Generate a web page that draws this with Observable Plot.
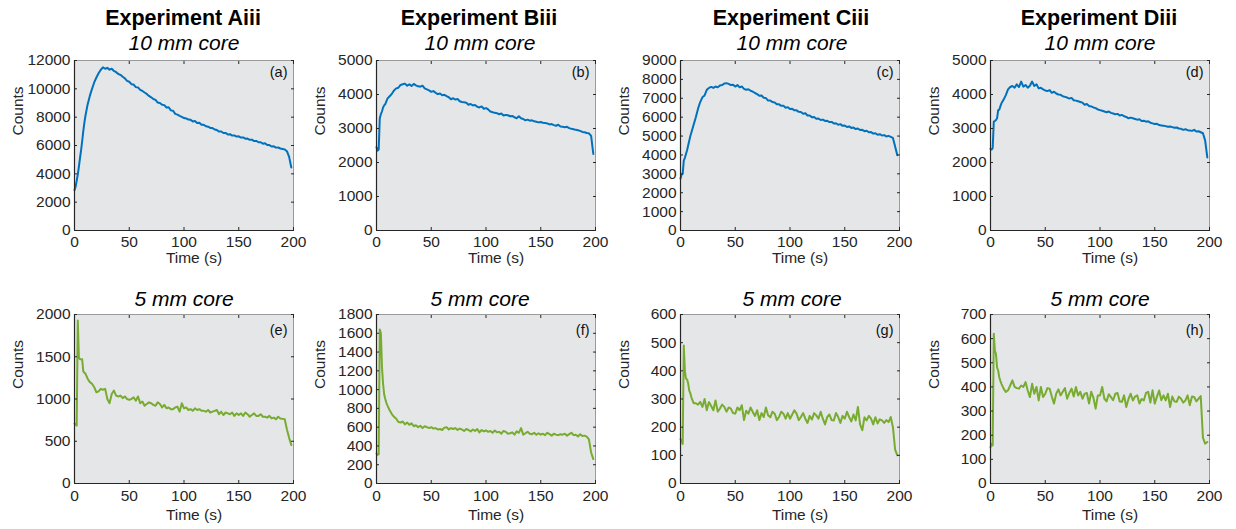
<!DOCTYPE html>
<html>
<head>
<meta charset="utf-8">
<script src="https://cdn.jsdelivr.net/npm/d3@7"></script>
<script src="https://cdn.jsdelivr.net/npm/@observablehq/plot@0.6"></script>
<style>
  body { margin: 0; background: #fff; font-family: "Liberation Sans", Arial, sans-serif; }
  #root { position: relative; width: 1236px; height: 529px; overflow: hidden; background: #fff; }
  .t { position: absolute; white-space: nowrap; line-height: 1; color: #000; transform: translateX(-50%); }
  .title { font-weight: bold; font-size: 21.5px; }
  .sub { font-style: italic; font-size: 21px; }
  .pl { position: absolute; }
</style>
</head>
<body>
<div id="root"></div>
<script>
// ---------- data ----------
const experiments = ["Experiment Aiii", "Experiment Biii", "Experiment Ciii", "Experiment Diii"];
const coreLabels = ["10 mm core", "5 mm core"];
const panelLetters = ["(a)", "(b)", "(c)", "(d)", "(e)", "(f)", "(g)", "(h)"];
const xTicks = [0, 50, 100, 150, 200];
// time (s): 0..9 every 1 s, then 10..198 every 2 s
const time = d3.range(0, 10).concat(d3.range(10, 199, 2));

const countsA = [
  2850, 3100, 3500, 3950, 4500, 5100, 5650, 6300, 7000, 7600,
  8100, 8900, 9500, 10000, 10450, 10800, 11100, 11350, 11520, 11420,
  11480, 11350, 11420, 11260, 11180, 11050, 10990, 10850, 10740, 10560,
  10500, 10330, 10300, 10120, 10100, 9930, 9850, 9740, 9640, 9500,
  9400, 9280, 9220, 9030, 9000, 8880, 8850, 8680, 8700, 8480,
  8450, 8230, 8180, 8090, 8020, 7940, 7910, 7830, 7810, 7700,
  7730, 7590, 7610, 7460, 7460, 7360, 7330, 7240, 7230, 7130,
  7090, 6980, 6990, 6880, 6890, 6780, 6800, 6700, 6710, 6630,
  6650, 6560, 6570, 6480, 6490, 6400, 6410, 6310, 6320, 6230,
  6230, 6130, 6160, 6030, 6030, 5930, 5940, 5850, 5860, 5790,
  5760, 5720, 5600, 5200, 4450
];
const countsB = [
  2450, 2350, 2380, 3300, 3420, 3500, 3620, 3680, 3720, 3800,
  3880, 3950, 4020, 4120, 4180, 4200, 4280, 4300, 4320, 4260,
  4300, 4250, 4310, 4270, 4240, 4230, 4260, 4180, 4150, 4120,
  4080, 4100, 4050, 4010, 4030, 3980, 3990, 3950, 3920, 3860,
  3890, 3850, 3870, 3800, 3780, 3770, 3760, 3700, 3720, 3680,
  3690, 3640, 3620, 3650, 3580, 3600, 3560, 3500, 3480, 3460,
  3450, 3420, 3440, 3380, 3400, 3390, 3360, 3370, 3330, 3300,
  3360, 3300, 3280, 3240, 3260, 3230, 3240, 3210, 3200, 3180,
  3190, 3170, 3160, 3150, 3120, 3130, 3100, 3080, 3110, 3060,
  3050, 3040, 3050, 3010, 2990, 2980, 2960, 2950, 2930, 2900,
  2890, 2870, 2860, 2780, 2250
];
const countsC = [
  2750, 2950, 3000, 3700, 3850, 4050, 4250, 4500, 4750, 5000,
  5200, 5600, 6000, 6450, 6800, 7050, 7150, 7450, 7550, 7600,
  7550, 7620, 7580, 7680, 7700, 7780, 7800, 7760, 7700, 7720,
  7620, 7700, 7580, 7620, 7500, 7450, 7480, 7400, 7350, 7280,
  7220, 7130, 7150, 7030, 7010, 6880, 6880, 6800, 6780, 6680,
  6680, 6600, 6610, 6500, 6530, 6430, 6450, 6360, 6360, 6280,
  6270, 6180, 6210, 6090, 6090, 5990, 6010, 5920, 5930, 5850,
  5870, 5800, 5810, 5740, 5750, 5670, 5680, 5600, 5630, 5540,
  5560, 5480, 5510, 5430, 5450, 5370, 5400, 5320, 5330, 5260,
  5280, 5200, 5210, 5130, 5150, 5070, 5100, 5030, 5050, 4980,
  5010, 4960, 4900, 4450, 3980
];
const countsD = [
  2400, 2380, 2420, 3200, 3220, 3250, 3300, 3540, 3550, 3650,
  3740, 3850, 3980, 4150, 4220, 4250, 4200, 4300, 4220, 4380,
  4230, 4280, 4200, 4260, 4380, 4250, 4300, 4180, 4200, 4150,
  4120, 4100, 4130, 4050, 4080, 4030, 4000, 3990, 3950, 3930,
  3910, 3880, 3900, 3830, 3820, 3800, 3780, 3760, 3700, 3720,
  3660, 3650, 3620, 3600, 3560, 3540, 3520, 3500, 3480, 3500,
  3460, 3440, 3420, 3430, 3380, 3400, 3360, 3340, 3300, 3320,
  3300, 3280, 3260, 3270, 3220, 3230, 3200, 3210, 3170, 3150,
  3130, 3140, 3100, 3090, 3080, 3070, 3050, 3060, 3040, 3020,
  3030, 3000, 2990, 2960, 2980, 2950, 2940, 2930, 2960, 2910,
  2920, 2890, 2860, 2650, 2150
];
const countsE = [
  710, 700, 685, 1930, 1490, 1470, 1470, 1470, 1330, 1310,
  1300, 1240, 1200, 1180, 1140, 1080, 1090, 1120, 1110, 1120,
  1000, 950, 1060, 1100, 1040, 1030, 1040, 1010, 1030, 1000,
  990, 1000, 1020, 980, 1030, 950, 970, 920, 940, 960,
  950, 930, 920, 960, 940, 900, 930, 890, 900, 880,
  880, 900, 910, 850, 950, 890, 900, 870, 880, 860,
  890, 870, 880, 860, 860, 850, 870, 840, 850, 860,
  870, 820, 850, 810, 840, 830, 820, 840, 800, 830,
  810, 830, 800, 840, 820, 790, 810, 830, 800, 800,
  820, 790, 790, 780, 800, 770, 780, 760, 790, 770,
  765, 760, 640, 540, 455
];
const countsF = [
  320, 305, 310, 1640, 1600, 1240, 1060, 950, 900, 860,
  830, 780, 740, 710, 690, 655, 650, 660, 630, 650,
  625, 640, 610, 620, 600, 615, 590, 610, 600, 590,
  600, 585, 590, 575, 580, 570, 595, 600, 575, 590,
  580, 590, 570, 585, 575, 560, 580, 570, 555, 575,
  560, 580, 545, 570, 555, 565, 550, 560, 540, 565,
  545, 550, 530, 560, 550, 530, 535, 545, 520, 555,
  540, 590, 520, 535, 550, 530, 525, 540, 520, 535,
  520, 530, 515, 540, 525, 510, 530, 520, 515, 525,
  520, 530, 510, 525, 540, 515, 520, 500, 525, 505,
  510, 500, 470, 330, 260
];
const countsG = [
  158, 152, 140, 490, 400, 372, 370, 355, 330, 320,
  305, 285, 285, 280, 290, 272, 300, 260, 289, 275,
  260, 295, 255, 266, 280, 272, 255, 270, 266, 250,
  248, 270, 260, 278, 225, 258, 248, 270, 254, 240,
  260, 225, 250, 236, 270, 242, 235, 255, 248, 225,
  236, 255, 248, 230, 250, 230, 245, 260, 248, 225,
  236, 250, 230, 215, 240, 227, 250, 242, 230, 255,
  230, 210, 236, 245, 225, 224, 250, 236, 215, 240,
  230, 255, 236, 220, 245, 224, 272, 210, 189, 235,
  224, 240, 230, 210, 235, 213, 228, 224, 215, 225,
  218, 236, 200, 120, 100
];
const countsH = [
  150, 165, 158, 620, 550, 537, 480, 468, 440, 425,
  413, 393, 379, 386, 406, 427, 400, 395, 393, 406,
  400, 420, 385, 358, 413, 372, 400, 344, 400, 358,
  372, 395, 393, 360, 331, 372, 390, 365, 380, 395,
  351, 375, 393, 360, 400, 365, 380, 351, 372, 375,
  331, 380, 355, 310, 365, 365, 400, 351, 340, 370,
  358, 345, 372, 375, 340, 338, 365, 317, 350, 372,
  344, 360, 365, 331, 350, 344, 375, 380, 335, 386,
  331, 360, 385, 345, 365, 344, 372, 317, 360, 340,
  338, 360, 351, 335, 344, 365, 324, 360, 358, 340,
  351, 362, 190, 165, 172
];
const yMax = [12000, 5000, 9000, 5000, 2000, 1800, 600, 700];
const yStep = [2000, 1000, 1000, 1000, 500, 200, 100, 100];
const series = [countsA, countsB, countsC, countsD, countsE, countsF, countsG, countsH];
const lineColors = ["#0072BD", "#77AC30"];

// ---------- layout ----------
const root = document.getElementById("root");
const colLeft = [74, 376, 680, 990];
const plotW = 219;
const rowTop = [60, 314];
const rowH = [170, 169];
const titleCenter = [183, 479, 791, 1099];
const ML = 62, MR = 24, MT = 8, MB = 46;
const fmt = d3.format("d");
const FONT = "'Liberation Sans', Arial, sans-serif";

function addText(cls, text, cx, top) {
  const d = document.createElement("div");
  d.className = "t " + cls;
  d.textContent = text;
  d.style.left = cx + "px";
  d.style.top = top + "px";
  root.appendChild(d);
}

for (let c = 0; c < 4; c++) {
  addText("title", experiments[c], titleCenter[c], 26 - 0.8465 * 21.5);
  addText("sub", coreLabels[0], titleCenter[c] + 1, 50 - 0.8465 * 21);
  addText("sub", coreLabels[1], titleCenter[c] + 1, 306 - 0.8465 * 21);
}

for (let p = 0; p < 8; p++) {
  const row = p < 4 ? 0 : 1, col = p % 4;
  const data = time.map((t, i) => ({t, v: series[p][i]}));
  const ym = yMax[p];
  const yTicks = d3.range(0, ym + 1, yStep[p]);
  const h = MT + rowH[row] + MB;
  const chart = Plot.plot({
    width: ML + plotW + MR,
    height: h,
    marginLeft: ML, marginRight: MR, marginTop: MT, marginBottom: MB,
    style: {fontFamily: FONT, fontSize: "15.5px", color: "#262626", background: "transparent", overflow: "visible"},
    x: {domain: [0, 200], ticks: xTicks},
    y: {domain: [0, ym], ticks: yTicks},
    marks: [
      Plot.frame({fill: "#e5e6e8", stroke: null}),
      Plot.line(data, {x: "t", y: "v", stroke: lineColors[row], strokeWidth: 2}),
      Plot.ruleY([ym], {stroke: "#9a9a9a", strokeWidth: 1}),
      Plot.ruleX([200], {stroke: "#9a9a9a", strokeWidth: 1}),
      Plot.ruleX([0], {stroke: "#262626", strokeWidth: 1.2}),
      Plot.ruleY([0], {stroke: "#262626", strokeWidth: 1.2}),
      // inward ticks on all four sides
      Plot.axisX({anchor: "bottom", ticks: xTicks, tickSize: -3, tickFormat: () => "", label: null, stroke: "#262626"}),
      Plot.axisX({anchor: "top", ticks: xTicks, tickSize: -3, tickFormat: () => "", label: null, stroke: "#262626"}),
      Plot.axisY({anchor: "left", ticks: yTicks, tickSize: -3, tickFormat: () => "", label: null, stroke: "#262626"}),
      Plot.axisY({anchor: "right", ticks: yTicks, tickSize: -3, tickFormat: () => "", label: null, stroke: "#262626"}),
      // tick labels
      Plot.axisX({anchor: "bottom", ticks: xTicks, tickSize: 0, tickPadding: row === 0 ? 5 : 6, tickFormat: fmt, label: null}),
      Plot.axisY({anchor: "left", ticks: yTicks, tickSize: 0, tickPadding: 4, tickFormat: fmt, label: null}),
      // axis titles
      Plot.text(["Time (s)"], {frameAnchor: "bottom", dx: 10, dy: row === 0 ? 21 : 25, lineAnchor: "top", fontSize: 15.5, fill: "#262626"}),
      Plot.text(["Counts"], {frameAnchor: "left", dx: -56, dy: -10, rotate: -90, fontSize: 15.5, fill: "#262626"}),
      // panel letter
      Plot.text([panelLetters[p]], {frameAnchor: "top-right", dx: -6, dy: row === 0 ? 6 : 10, lineAnchor: "top", textAnchor: "end", fontSize: 14.5, fill: "#111"})
    ]
  });
  const wrap = document.createElement("div");
  wrap.className = "pl";
  wrap.style.left = (colLeft[col] - ML) + "px";
  wrap.style.top = (rowTop[row] - MT) + "px";
  wrap.appendChild(chart);
  root.appendChild(wrap);
}
</script>
</body>
</html>
